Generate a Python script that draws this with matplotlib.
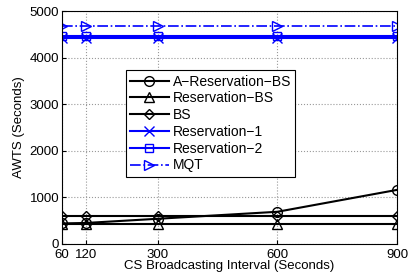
import matplotlib
matplotlib.use("Agg")
import matplotlib.pyplot as plt

x = [60, 120, 300, 600, 900]
a_res_bs = [440, 450, 540, 690, 1160]
res_bs = [430, 430, 430, 430, 430]
bs = [600, 600, 600, 600, 600]
res1 = [4430, 4430, 4430, 4430, 4430]
res2 = [4465, 4465, 4465, 4465, 4465]
mqt = [4680, 4680, 4680, 4680, 4680]

plt.rcParams['font.family'] = ['Liberation Sans', 'DejaVu Sans']
fig = plt.figure(figsize=(4.08, 2.75), dpi=100)
ax = fig.add_axes([0.152, 0.113, 0.821, 0.847])

ms = 7
ax.plot(x, a_res_bs, color='k', lw=1.5, marker='o', ms=ms, mfc='none', mew=1.0, label='A\u2212Reservation\u2212BS')
ax.plot(x, res_bs, color='k', lw=1.5, marker='^', ms=ms, mfc='none', mew=1.0, label='Reservation\u2212BS')
ax.plot(x, bs, color='k', lw=1.5, marker='D', ms=5.5, mfc='none', mew=1.0, label='BS')
ax.plot(x, res1, color='b', lw=1.5, marker='x', ms=ms, mew=1.0, label='Reservation\u22121')
ax.plot(x, res2, color='b', lw=1.5, marker='s', ms=6, mfc='none', mew=1.0, label='Reservation\u22122')
ax.plot(x, mqt, color='b', lw=1.2, ls='-.', marker='>', ms=ms, mfc='none', mew=1.0, label='MQT')

ax.set_xlim(60, 900)
ax.set_ylim(0, 5000)
ax.set_xticks(x)
ax.set_yticks([0, 1000, 2000, 3000, 4000, 5000])
ax.tick_params(direction='in', labelsize=9.5, length=3, pad=2)
ax.tick_params(axis='x', pad=4)
ax.grid(True, ls=':', color='#999999', lw=0.8)
ax.set_xlabel('CS Broadcasting Interval (Seconds)', fontsize=9.5, labelpad=-1)
ax.set_ylabel('AWTS (Seconds)', fontsize=9.5, labelpad=3)
for s in ax.spines.values():
    s.set_linewidth(0.8)

leg = ax.legend(loc='upper left', bbox_to_anchor=(0.19, 0.745), fontsize=10, frameon=True,
                fancybox=False, edgecolor='k', framealpha=1, handlelength=2.8,
                borderpad=0.3, labelspacing=0.2, handletextpad=0.3, borderaxespad=0)
leg.get_frame().set_linewidth(0.8)

fig.savefig('out.png', dpi=100)
